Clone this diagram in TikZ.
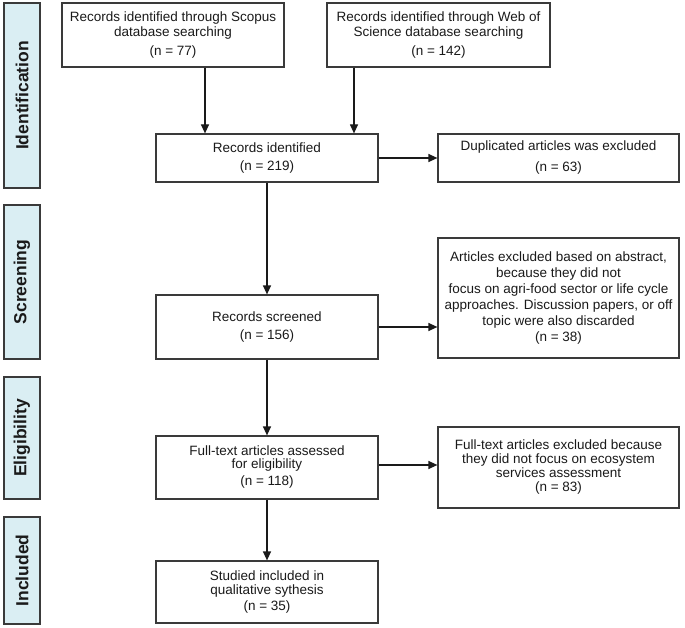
\documentclass[tikz,border=0pt]{standalone}
\usepackage{fontspec}
\setmainfont{Liberation Sans}
\usetikzlibrary{arrows.meta,calc}
\definecolor{sidefill}{HTML}{DAEEF3}
\definecolor{edge}{HTML}{3A3A3A}
\definecolor{ink}{HTML}{1A1A1A}
\tikzset{
  box/.style={draw=edge, line width=1.2pt, fill=white, inner sep=0pt, align=center,
    text=ink, font=\fontsize{13.5}{15}\selectfont},
  side/.style={draw=edge, line width=1.6pt, fill=sidefill, rotate=90, inner sep=0pt,
    text=ink, font=\fontsize{17.5}{20}\selectfont\bfseries},
  arr/.style={draw=ink, line width=1.2pt, -{Triangle[length=9pt,width=8pt]}}
}
\begin{document}
\begin{tikzpicture}[x=1pt,y=-1pt]
\useasboundingbox (0,0) rectangle (685,628);
% side bars
\node[side, minimum width=185pt, minimum height=36pt] (sid) at (22,95.5) {Identification};
\node[side, minimum width=154pt, minimum height=36pt] (ssc) at (22,282) {Screening};
\node[side, minimum width=122pt, minimum height=36pt] (sel) at (22,438) {Eligibility};
\node[side, minimum width=107pt, minimum height=36pt] (sin) at (22,570.5) {Included};
% boxes
\node[box, minimum width=222pt, minimum height=64pt] (scopus) at (173,35)
  {Records identified through Scopus\\database searching\\[4pt](n = 77)};
\node[box, minimum width=223pt, minimum height=64pt] (wos) at (438.5,35)
  {Records identified through Web of\\Science database searching\\[4pt](n = 142)};
\node[box, minimum width=222pt, minimum height=48pt] (ident) at (267,158)
  {Records identified\\[3pt](n = 219)};
\node[box, minimum width=241pt, minimum height=48pt] (dup) at (558.5,158)
  {Duplicated articles was excluded\\[6pt](n = 63)};
\node[box, minimum width=222pt, minimum height=64pt] (screen) at (267,327)
  {Records screened\\[3pt](n = 156)};
\node[box, minimum width=241pt, minimum height=120pt, font=\fontsize{13.5}{16}\selectfont] (absx) at (558.5,298)
  {Articles excluded based on abstract,\\because they did not\\focus on agri-food sector or life cycle\\approaches. Discussion papers, or off\\topic were also discarded\\(n = 38)};
\node[box, minimum width=222pt, minimum height=63pt] (elig) at (267,467.5)
  {Full-text articles assessed\\[-2pt]for eligibility\\[2pt](n = 118)};
\node[box, minimum width=241pt, minimum height=81pt, font=\fontsize{13.5}{14}\selectfont] (ftx) at (558.5,467.5)
  {Full-text articles excluded because\\they did not focus on ecosystem\\services assessment\\(n = 83)};
\node[box, minimum width=222pt, minimum height=62pt] (incl) at (267,592)
  {Studied included in\\[-1pt]qualitative sythesis\\[1pt](n = 35)};
% connectors
\draw[arr] ([xshift=-62pt]ident.north |- scopus.south) -- ([xshift=-62pt]ident.north);
\draw[arr] ([xshift=87pt]ident.north |- wos.south) -- ([xshift=87pt]ident.north);
\draw[arr] (ident.east) -- (dup.west);
\draw[arr] (ident.south) -- (screen.north);
\draw[arr] (screen.east) -- (screen.east -| absx.west);
\draw[arr] (screen.south) -- (elig.north);
\draw[arr] ([yshift=2.5pt]elig.east) -- ([yshift=2.5pt]elig.east -| ftx.west);
\draw[arr] (elig.south) -- (incl.north);
\end{tikzpicture}
\end{document}
